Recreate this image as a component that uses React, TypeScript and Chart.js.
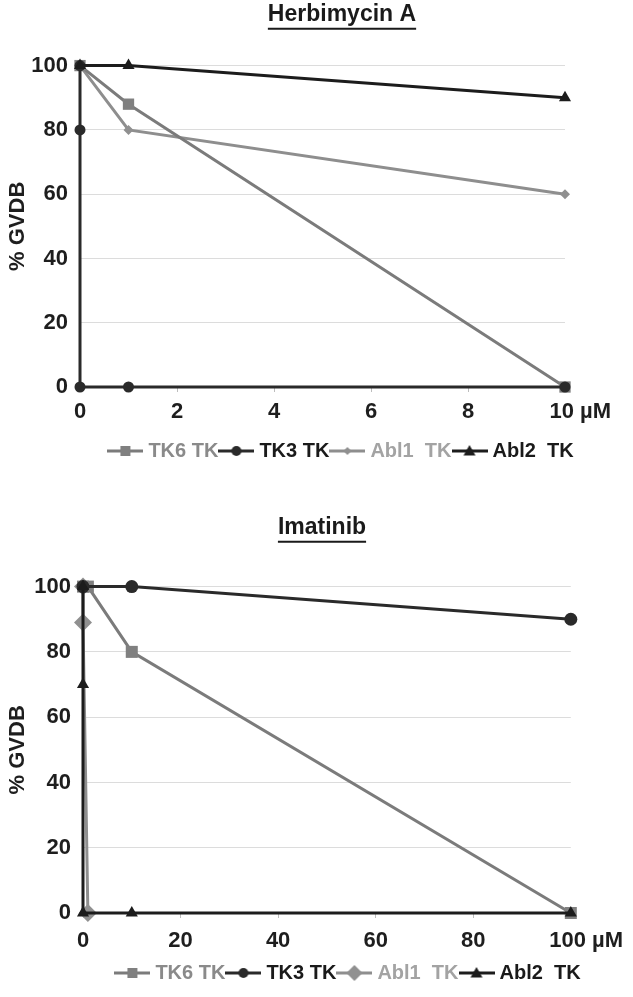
import React, { useEffect, useRef } from 'react';
import { Chart, registerables } from 'chart.js';

Chart.register(...registerables);

const FONT = '"Liberation Sans", Arial, Helvetica, sans-serif';

// ---------- data ----------
const seriesNames = ['TK6 TK', 'TK3 TK', 'Abl1  TK', 'Abl2  TK'];
const yTicks = [0, 20, 40, 60, 80, 100];

// Herbimycin A (µM)
const herbTitle = 'Herbimycin A';
const herbXTicks = [0, 2, 4, 6, 8, 10];
const herbTK6X = [0, 1, 10];
const herbTK6Y = [100, 88, 0];
const herbTK3X = [0, 0, 0, 1, 10];
const herbTK3Y = [100, 80, 0, 0, 0];
const herbAbl1X = [0, 1, 10];
const herbAbl1Y = [100, 80, 60];
const herbAbl2X = [0, 1, 10];
const herbAbl2Y = [100, 100, 90];

// Imatinib (µM)
const imaTitle = 'Imatinib';
const imaXTicks = [0, 20, 40, 60, 80, 100];
const imaTK6X = [0, 1, 10, 100];
const imaTK6Y = [100, 100, 80, 0];
const imaTK3X = [0, 10, 100];
const imaTK3Y = [100, 100, 90];
const imaAbl1X = [0, 0, 1];
const imaAbl1Y = [100, 89, 0];
const imaAbl2X = [0, 0, 0, 10, 100];
const imaAbl2Y = [100, 70, 0, 0, 0];

// ---------- styles ----------
const lineColors = ['#7b7b7b', '#2a2a2a', '#8e8e8e', '#1c1c1c'];
const markerColors = ['#808080', '#2a2a2a', '#909090', '#1c1c1c'];
const legendTextColors = ['#8a8a8a', '#1a1a1a', '#a3a3a3', '#1a1a1a'];
const pointStyles = ['rect', 'circle', 'rectRot', 'triangle'];
const drawOrder = [2, 1, 3, 0];

const zip = (xs: number[], ys: number[]) => xs.map((x, i) => ({ x, y: ys[i] }));

function makeSymbol(style: string, line: string, fill: string, r: number) {
  const c = document.createElement('canvas');
  c.width = 36;
  c.height = 20;
  const ctx = c.getContext('2d')!;
  ctx.strokeStyle = line;
  ctx.lineWidth = 3;
  ctx.beginPath();
  ctx.moveTo(0, 10);
  ctx.lineTo(36, 10);
  ctx.stroke();
  ctx.fillStyle = fill;
  ctx.beginPath();
  const cx = 18, cy = 10;
  if (style === 'rect') {
    ctx.rect(cx - r, cy - r, 2 * r, 2 * r);
  } else if (style === 'circle') {
    ctx.arc(cx, cy, r, 0, Math.PI * 2);
  } else if (style === 'rectRot') {
    ctx.moveTo(cx, cy - r);
    ctx.lineTo(cx + r, cy);
    ctx.lineTo(cx, cy + r);
    ctx.lineTo(cx - r, cy);
    ctx.closePath();
  } else {
    ctx.moveTo(cx, cy - r);
    ctx.lineTo(cx + r, cy + r * 0.75);
    ctx.lineTo(cx - r, cy + r * 0.75);
    ctx.closePath();
  }
  ctx.fill();
  return c;
}

const placePlugin = {
  id: 'placeBoxes',
  afterLayout(chart: any, _args: any, opts: any) {
    const t = chart.titleBlock;
    if (t && opts.titleCenter != null) {
      const w = t.right - t.left;
      t.left = opts.titleCenter - w / 2;
      t.right = t.left + w;
    }
    const l = chart.legend;
    if (l && opts.legendCenter != null) {
      const w = l.right - l.left;
      l.left = opts.legendCenter - w / 2;
      l.right = l.left + w;
      if (l.adjustHitBoxes) l.adjustHitBoxes();
    }
  },
  afterDraw(chart: any, _args: any, opts: any) {
    const t = chart.titleBlock;
    if (!t || !opts.underline) return;
    const ctx = chart.ctx;
    const tf = t.options.font;
    ctx.save();
    ctx.font = `bold ${tf.size}px ${FONT}`;
    const text = t.options.text;
    const w = ctx.measureText(text).width;
    const cx = (t.left + t.right) / 2;
    const cy = t.top + t._padding.top + (tf.size * 1.2) / 2;
    ctx.strokeStyle = '#1a1a1a';
    ctx.lineWidth = 2;
    ctx.beginPath();
    ctx.moveTo(cx - w / 2, cy + 14);
    ctx.lineTo(cx + w / 2, cy + 14);
    ctx.stroke();
    ctx.restore();
  },
};

type PanelProps = {
  height: number;
  title: string;
  xTicks: number[];
  series: { x: number[]; y: number[] }[];
  radii: number[];
  legendRadii: number[];
  pad: { left: number; right: number; top: number; bottom: number };
  titlePadTop: number;
  titlePadBottom: number;
  titleCenter: number;
  legendCenter: number;
  yAxisWidth: number;
  xAxisHeight: number;
  xTickPad: number;
};

function Panel(p: PanelProps) {
  const ref = useRef<HTMLCanvasElement>(null);
  useEffect(() => {
    if (!ref.current) return;
    const xMax = p.xTicks[p.xTicks.length - 1];
    const symbols = pointStyles.map((s, i) =>
      makeSymbol(s, lineColors[i], markerColors[i], p.legendRadii[i])
    );
    const datasets = p.series.map((s, i) => ({
      label: seriesNames[i],
      data: zip(s.x, s.y),
      order: drawOrder[i],
      borderColor: lineColors[i],
      backgroundColor: markerColors[i],
      pointBackgroundColor: markerColors[i],
      pointBorderColor: markerColors[i],
      pointBorderWidth: 0,
      pointStyle: pointStyles[i],
      pointRadius: p.radii[i],
      borderWidth: 3,
      tension: 0,
      clip: false as any,
    }));
    const chart = new Chart(ref.current, {
      type: 'line',
      data: { datasets },
      plugins: [placePlugin],
      options: {
        animation: false,
        responsive: false,
        layout: { padding: p.pad },
        scales: {
          x: {
            type: 'linear',
            min: p.xTicks[0],
            max: xMax,
            afterBuildTicks: (axis: any) => {
              axis.ticks = p.xTicks.map((v) => ({ value: v }));
            },
            afterFit: (scale: any) => {
              scale.height = p.xAxisHeight;
            },
            grid: {
              drawOnChartArea: false,
              drawTicks: true,
              tickLength: 5,
              color: '#bdbdbd',
            },
            border: { display: true, color: '#9a9a9a', width: 1 },
            ticks: {
              padding: p.xTickPad,
              color: '#1e1e1e',
              font: { family: FONT, size: 22, weight: 'bold' },
              maxRotation: 0,
              autoSkip: false,
              callback: (v: any) => (Number(v) === xMax ? `     ${v} µM` : String(v)),
            },
          },
          y: {
            type: 'linear',
            min: 0,
            max: 100,
            afterBuildTicks: (axis: any) => {
              axis.ticks = yTicks.map((v) => ({ value: v }));
            },
            afterFit: (scale: any) => {
              scale.width = p.yAxisWidth;
            },
            grid: { color: '#dcdcdc', lineWidth: 1, drawTicks: false },
            border: { display: false },
            ticks: {
              padding: 12,
              color: '#1e1e1e',
              font: { family: FONT, size: 22, weight: 'bold' },
            },
            title: {
              display: true,
              text: '% GVDB',
              color: '#1e1e1e',
              font: { family: FONT, size: 22, weight: 'bold' },
              padding: { top: 5, bottom: 0 },
            },
          },
        },
        plugins: {
          tooltip: { enabled: false },
          title: {
            display: true,
            text: p.title,
            color: '#1a1a1a',
            font: { family: FONT, size: 23, weight: 'bold' },
            padding: { top: p.titlePadTop, bottom: p.titlePadBottom },
          },
          legend: {
            display: true,
            position: 'bottom',
            labels: {
              usePointStyle: true,
              pointStyleWidth: 26,
              boxHeight: 20,
              padding: 5,
              font: { family: FONT, size: 20, weight: 'bold' },
              generateLabels: () =>
                seriesNames.map((name, i) => ({
                  text: name,
                  fontColor: legendTextColors[i],
                  pointStyle: symbols[i],
                  fillStyle: 'transparent',
                  strokeStyle: 'transparent',
                  lineWidth: 0,
                  hidden: false,
                  datasetIndex: i,
                })) as any,
            },
          },
          placeBoxes: {
            titleCenter: p.titleCenter,
            legendCenter: p.legendCenter,
            underline: true,
          },
        } as any,
      },
    });
    return () => chart.destroy();
  }, []);
  return (
    <div style={{ width: 633, height: p.height }}>
      <canvas ref={ref} width={633} height={p.height} style={{ display: 'block' }} />
    </div>
  );
}

export default function App() {
  return (
    <div style={{ position: 'absolute', left: 0, top: 0, width: 633, background: '#fff' }}>
      <Panel
        height={500}
        title={herbTitle}
        xTicks={herbXTicks}
        series={[
          { x: herbTK6X, y: herbTK6Y },
          { x: herbTK3X, y: herbTK3Y },
          { x: herbAbl1X, y: herbAbl1Y },
          { x: herbAbl2X, y: herbAbl2Y },
        ]}
        radii={[8, 5.5, 5, 7]}
        legendRadii={[5, 5, 4, 6]}
        pad={{ left: 0, right: 68, top: 0, bottom: 29 }}
        titlePadTop={1}
        titlePadBottom={37}
        titleCenter={342}
        legendCenter={343}
        yAxisWidth={80}
        xAxisHeight={49}
        xTickPad={7}
      />
      <Panel
        height={497}
        title={imaTitle}
        xTicks={imaXTicks}
        series={[
          { x: imaTK6X, y: imaTK6Y },
          { x: imaTK3X, y: imaTK3Y },
          { x: imaAbl1X, y: imaAbl1Y },
          { x: imaAbl2X, y: imaAbl2Y },
        ]}
        radii={[8.5, 6.5, 9, 7]}
        legendRadii={[5, 5, 8, 6]}
        pad={{ left: 0, right: 61, top: 0, bottom: 4 }}
        titlePadTop={14}
        titlePadBottom={45}
        titleCenter={322}
        legendCenter={350}
        yAxisWidth={83}
        xAxisHeight={45}
        xTickPad={10}
      />
    </div>
  );
}
